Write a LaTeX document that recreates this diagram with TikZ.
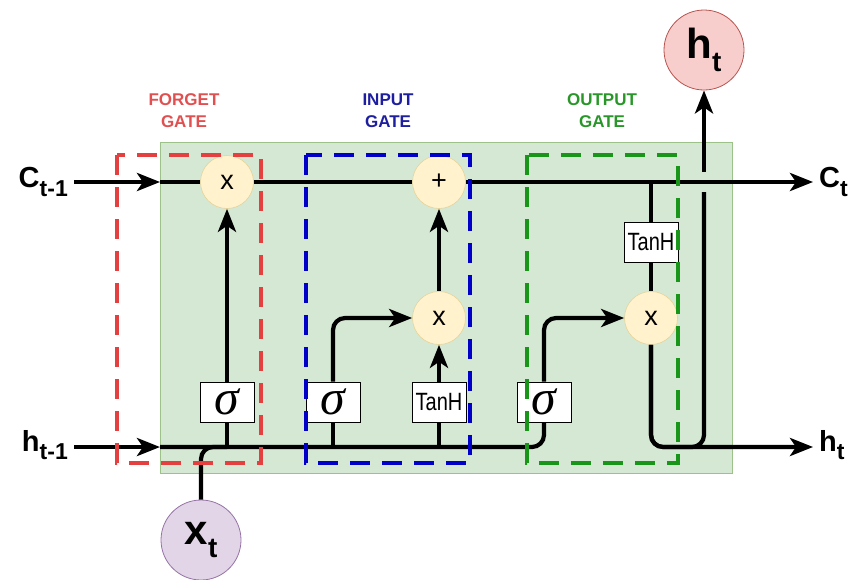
\documentclass[tikz,border=0pt]{standalone}
\usepackage{fontspec}
\setmainfont{Liberation Sans}
\newfontfamily\sigmafont{Liberation Serif}
\usepackage{tikz}
\usetikzlibrary{arrows.meta}
\usetikzlibrary{positioning}
\definecolor{cellfill}{HTML}{D5E8D4}
\definecolor{celldraw}{HTML}{9CC28A}
\definecolor{opfill}{HTML}{FFF2CC}
\definecolor{opdraw}{HTML}{E6D39A}
\definecolor{htfill}{HTML}{F8CECC}
\definecolor{htdraw}{HTML}{B85450}
\definecolor{xtfill}{HTML}{E1D5E7}
\definecolor{xtdraw}{HTML}{9673A6}
\definecolor{forgetred}{RGB}{228,64,64}
\definecolor{inputblue}{RGB}{0,0,200}
\definecolor{outputgreen}{RGB}{25,150,25}
\definecolor{forgettxt}{RGB}{225,80,80}
\definecolor{inputtxt}{RGB}{30,30,160}
\definecolor{outputtxt}{RGB}{40,150,40}
\newcommand{\lowidx}[2]{\raisebox{-0.3em}{\fontsize{#1}{#1}\selectfont #2}}
\newcommand{\sigbox}{\sigmafont\itshape\fontsize{50}{50}\selectfont σ}
\newcommand{\tanhbox}{\fontsize{25}{25}\selectfont\scalebox{0.8}[1]{TanH}}

\begin{document}
\begin{tikzpicture}
          [x=1pt, y=-1pt,
           op/.style={draw=opdraw, fill=opfill, circle, line width=0.6pt, minimum size=53pt, inner sep=0pt, font=\fontsize{27}{27}\selectfont},
           act/.style={draw, fill=white, line width=1pt, minimum width=54pt, minimum height=40pt, inner sep=0pt},
           flow/.style={line width=4.2pt},
           zone/.style={line width=3.8pt, dash pattern=on 20pt off 12pt},
           gatelabel/.style={font=\fontsize{17}{22}\selectfont\bfseries, align=center},
           io/.style={font=\fontsize{29}{29}\selectfont\bfseries, inner sep=0pt},
           state/.style={circle, line width=0.8pt, minimum size=80pt, inner sep=0pt, font=\fontsize{42}{42}\selectfont\bfseries},
           >={Stealth[length=23pt, width=18pt, inset=6pt]}]
          \useasboundingbox (0,0) rectangle (853,579);
          \node (cell) [draw=celldraw, fill=cellfill, line width=0.8pt, minimum width=572pt, minimum height=331pt] at (446,308) {};
          \coordinate (cl) at (160,182);
          \coordinate (hl) at (160,447);

          \node (fx) [op] at (227,182) {x};
          \node (plus) [op] at (439,182) {+};
          \node (ix) [op] at (439,318) {x};
          \node (ox) [op] at (651,318) {x};
          \node (fs) [act] at (227,402) {\sigbox};
          \node (is) [act] at (333,402) {\sigbox};
          \node (it) [act] at (439,402) {\tanhbox};
          \node (os) [act] at (544,402) {\sigbox};
          \node (ot) [act] at (651,242) {\tanhbox};
          \node (xt) [state, draw=xtdraw, fill=xtfill] at (201,540) {x\lowidx{28}{t}};
          \node (ht) [state, draw=htdraw, fill=htfill] at (704,50) {h\lowidx{28}{t}};

          \node (cprev) [io, anchor=east] at (68,182) {C\lowidx{23}{t-1}};
          \node (cnext) [io, anchor=west] at (819,182) {C\lowidx{23}{t}};
          \node (hprev) [io, anchor=east] at (68,445) {h\lowidx{23}{t-1}};
          \node (hnext) [io, anchor=west] at (819,445) {h\lowidx{23}{t}};

          \node (forgetlbl) [gatelabel, text=forgettxt] at (184,111) {FORGET\\GATE};
          \node (inputlbl) [gatelabel, text=inputtxt] at (388,111) {INPUT\\GATE};
          \node (outputlbl) [gatelabel, text=outputtxt] at (602,111) {OUTPUT\\GATE};

          % cell state
          \draw[flow, ->] ([xshift=6pt]cprev.east) -- (cl);
          \draw[flow] (cl) -- (fx);
          \draw[flow] (fx) -- (plus);
          \draw[flow, ->] (plus) -- ([xshift=-6pt]cnext.west |- cl);

          % hidden state and input
          \draw[flow, ->] ([xshift=6pt]hprev.east |- hl) -- (hl);
          \draw[flow, rounded corners=12pt] (hl) -| (os.south);
          \draw[flow, rounded corners=12pt] (xt.north) |- (fs.south |- hl);
          \draw[flow] (fs.south) -- (fs |- hl);
          \draw[flow] (is.south) -- (is |- hl);
          \draw[flow] (it.south) -- (it |- hl);

          % gates
          \draw[flow, ->] (fs) -- (fx);
          \draw[flow, ->, rounded corners=12pt] (is.north) |- (ix.west);
          \draw[flow, ->] (it) -- (ix);
          \draw[flow, ->] (ix) -- (plus);
          \draw[flow, ->, rounded corners=12pt] (os.north) |- (ox.west);
          \draw[flow] (ot.north) -- (ot |- cl);
          \draw[flow] (ot) -- (ox);

          % output
          \coordinate (hopa) at (704,192);
          \coordinate (hopb) at (704,172);
          \draw[flow, ->, rounded corners=12pt] (ox.south) |- ([xshift=-6pt]hnext.west |- hl);
          \draw[flow, rounded corners=12pt] (ox.south) |- (hopa |- hl) -- (hopa);
          \draw[flow, ->] (hopb) -- (ht);

          % gate zones
          \draw[zone, forgetred] (117,155) rectangle (261,463);
          \draw[zone, inputblue] (306,155) rectangle (470,463);
          \draw[zone, outputgreen] (527,155) rectangle (678,463);
        \end{tikzpicture}
\end{document}
